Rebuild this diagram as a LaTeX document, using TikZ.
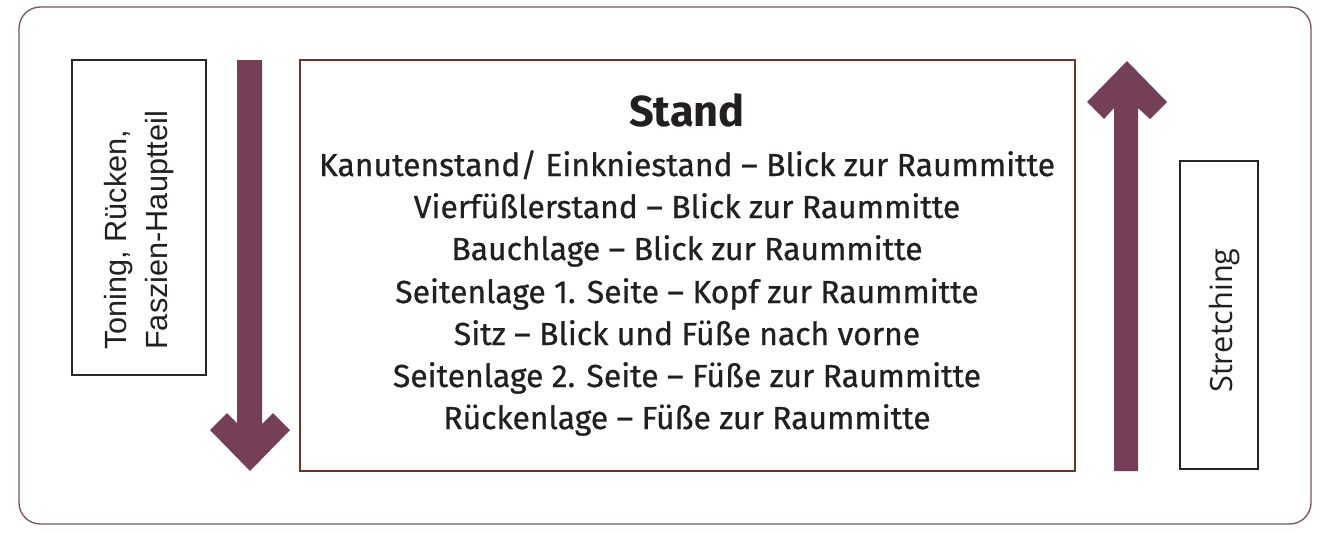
\documentclass[tikz,border=0pt]{standalone}
\usepackage{fontspec}
\setmainfont{Fira Sans}
\newfontfamily\midfont{Fira Sans}[FakeBold=0.7]
\newfontfamily\leftfont{Liberation Sans}
\newfontfamily\rightfont{Open Sans}
\definecolor{arrowcol}{RGB}{118,63,88}
\definecolor{framecol}{RGB}{125,80,102}
\definecolor{boxcol}{RGB}{110,52,44}
\definecolor{textcol}{RGB}{35,31,32}
\tikzset{
  outerframe/.style={draw=framecol,line width=1pt,rounded corners=16pt},
  sidebox/.style={draw=black!85,line width=1pt},
  mainbox/.style={draw=boxcol,line width=1pt},
  bigarrow/.style={fill=arrowcol,draw=none},
  mainline/.style={anchor=base,inner sep=0pt,font=\midfont\fontsize{23.9pt}{28pt}\selectfont,text=textcol},
  titleline/.style={anchor=base,inner sep=0pt,font=\fontsize{32.5pt}{40pt}\selectfont\bfseries,text=textcol},
  lefttext/.style={rotate=90,anchor=base west,inner sep=0pt,font=\leftfont\fontsize{23pt}{28pt}\selectfont,text=textcol},
  righttext/.style={rotate=90,anchor=base west,inner sep=0pt,font=\rightfont\fontsize{23pt}{28pt}\selectfont,text=textcol}
}
\begin{document}
\begin{tikzpicture}[x=0.75pt,y=-0.75pt]
\useasboundingbox (0,0) rectangle (1328,532);
\fill[white] (0,0) rectangle (1328,532);
\draw[outerframe] (19,7) rectangle (1311,524);
% boxes
\draw[sidebox] (72,60) rectangle (206,375);
\draw[mainbox] (300,60) rectangle (1075,471);
\draw[sidebox] (1180,161) rectangle (1258,469);
% arrows
\fill[bigarrow] (237,60) -- (237,423) -- (227,413) -- (210,430) -- (250,471) -- (290,430) -- (273,413) -- (262,424) -- (262,60) -- cycle;
\fill[bigarrow] (1114,471) -- (1114,108) -- (1104,119) -- (1087,102) -- (1127,61) -- (1167,102) -- (1150,119) -- (1138,108) -- (1138,471) -- cycle;
% texts
\node[lefttext] (l1) at (126,350) {Toning, Rücken,};
\node[lefttext] (l2) at (167,350) {Faszien-Hauptteil};
\node[righttext] (r1) at (1232,393) {Stretching};
\node[titleline] (t0) at (687,126) {Stand};
\node[mainline] (t1) at (687,176) {Kanutenstand/ Einkniestand – Blick zur Raummitte};
\node[mainline] (t2) at (687,218) {Vierfüßlerstand – Blick zur Raummitte};
\node[mainline] (t3) at (687,260) {Bauchlage – Blick zur Raummitte};
\node[mainline] (t4) at (687,303) {Seitenlage 1. Seite – Kopf zur Raummitte};
\node[mainline] (t5) at (687,345) {Sitz – Blick und Füße nach vorne};
\node[mainline] (t6) at (687,387) {Seitenlage 2. Seite – Füße zur Raummitte};
\node[mainline] (t7) at (687,429) {Rückenlage – Füße zur Raummitte};
\end{tikzpicture}
\end{document}
